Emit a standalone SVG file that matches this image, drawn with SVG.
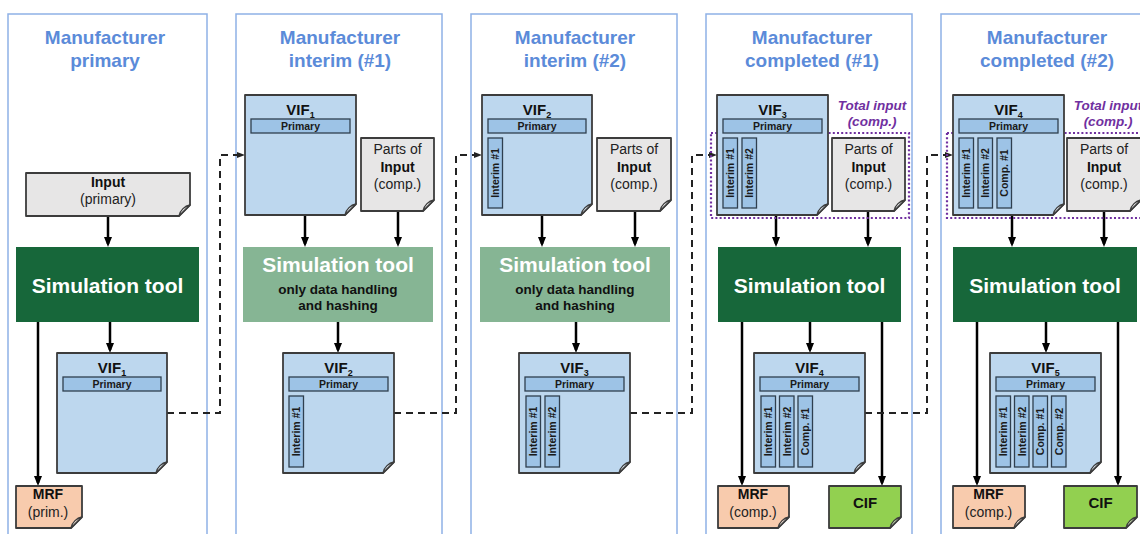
<svg xmlns="http://www.w3.org/2000/svg" width="1140" height="534" viewBox="0 0 1140 534">
<defs>
<style>
.panel{fill:none;stroke:#8fb1e6;stroke-width:1.5}
.title{font:bold 19px "Liberation Sans",Arial,sans-serif;fill:#5b8bd9;text-anchor:middle}
.doc{stroke:#3c3c3c;stroke-width:1.8;stroke-linejoin:round}
.vif{fill:#bdd7ee}
.inp{fill:#e7e6e6}
.mrf{fill:#f8cbad}
.cif{fill:#92d050}
.curl{fill:#ffffff;fill-opacity:.5;stroke:#3c3c3c;stroke-width:1.3;stroke-linejoin:round}
.bar{fill:#9dc3e6;stroke:#2f3f4f;stroke-width:1.3}
.simd{fill:#17673a}
.siml{fill:#86b594}
.simt{font:bold 21px "Liberation Sans",Arial,sans-serif;fill:#ffffff;text-anchor:middle}
.sub{font:bold 13.5px "Liberation Sans",Arial,sans-serif;fill:#111;text-anchor:middle}
.t14{font:14px "Liberation Sans",Arial,sans-serif;fill:#222;text-anchor:middle}
.b14{font:bold 14px "Liberation Sans",Arial,sans-serif;fill:#111;text-anchor:middle}
.vl{font:bold 15px "Liberation Sans",Arial,sans-serif;fill:#111;text-anchor:middle}
.vs{font-size:9px}
.pl{font:bold 10.5px "Liberation Sans",Arial,sans-serif;fill:#1a1a1a;text-anchor:middle}
.bt{font:bold 10.5px "Liberation Sans",Arial,sans-serif;fill:#1a1a1a;text-anchor:middle}
.arrow{stroke:#000;stroke-width:2.5;fill:none;marker-end:url(#ah)}
.dash{stroke:#222;stroke-width:2;stroke-dasharray:7 5;fill:none;marker-end:url(#ahs)}
.tot{fill:none;stroke:#7030a0;stroke-width:2.2;stroke-dasharray:2 2.2}
.totl{font:italic bold 13.5px "Liberation Sans",Arial,sans-serif;fill:#7030a0;text-anchor:middle}
</style>
<marker id="ah" markerUnits="userSpaceOnUse" viewBox="0 0 10 10" markerWidth="10" markerHeight="10" refX="7" refY="5" orient="auto"><path d="M0,1 L10,5 L0,9 Z" fill="#000"/></marker>
<marker id="ahs" markerUnits="userSpaceOnUse" viewBox="0 0 8 8" markerWidth="8" markerHeight="8" refX="5" refY="4" orient="auto"><path d="M0,1 L8,4 L0,7 Z" fill="#222"/></marker>
</defs>
<rect width="1140" height="534" fill="#ffffff"/>

<g id="panels">
<rect class="panel" x="8" y="14" width="199" height="540"/>
<rect class="panel" x="236" y="14" width="206" height="540"/>
<rect class="panel" x="471" y="14" width="206" height="540"/>
<rect class="panel" x="706" y="14" width="206" height="540"/>
<rect class="panel" x="941" y="14" width="206" height="540"/>
<text class="title" x="105" y="44">Manufacturer</text>
<text class="title" x="105" y="67">primary</text>
<text class="title" x="340" y="44">Manufacturer</text>
<text class="title" x="340" y="67">interim (#1)</text>
<text class="title" x="575" y="44">Manufacturer</text>
<text class="title" x="575" y="67">interim (#2)</text>
<text class="title" x="812" y="44">Manufacturer</text>
<text class="title" x="812" y="67">completed (#1)</text>
<text class="title" x="1047" y="44">Manufacturer</text>
<text class="title" x="1047" y="67">completed (#2)</text>
</g>

<g id="connectors">
<line class="arrow" x1="108" y1="216" x2="108" y2="244"/>
<line class="arrow" x1="110" y1="322" x2="110" y2="350"/>
<line class="arrow" x1="38" y1="322" x2="38" y2="483"/>
<path class="dash" d="M167,413 H220 V155 H242"/>
<line class="arrow" x1="305" y1="215" x2="305" y2="244"/>
<line class="arrow" x1="398" y1="211" x2="398" y2="244"/>
<line class="arrow" x1="338" y1="322" x2="338" y2="350"/>
<path class="dash" d="M394,413 H456 V155 H479"/>
<line class="arrow" x1="542" y1="215" x2="542" y2="244"/>
<line class="arrow" x1="635" y1="211" x2="635" y2="244"/>
<line class="arrow" x1="576" y1="322" x2="576" y2="350"/>
<path class="dash" d="M630,413 H692 V155 H714"/>
<line class="arrow" x1="776" y1="215" x2="776" y2="244"/>
<line class="arrow" x1="868" y1="211" x2="868" y2="244"/>
<line class="arrow" x1="810" y1="322" x2="810" y2="350"/>
<line class="arrow" x1="742" y1="322" x2="742" y2="483"/>
<line class="arrow" x1="882" y1="322" x2="882" y2="483"/>
<path class="dash" d="M865,413 H927 V155 H950"/>
<line class="arrow" x1="1012" y1="215" x2="1012" y2="244"/>
<line class="arrow" x1="1104" y1="211" x2="1104" y2="244"/>
<line class="arrow" x1="1046" y1="322" x2="1046" y2="350"/>
<line class="arrow" x1="977" y1="322" x2="977" y2="483"/>
<line class="arrow" x1="1118" y1="322" x2="1118" y2="483"/>
</g>

<!-- Panel 1 -->
<g id="p1-input">
<path class="doc inp" d="M26,173 H190 V205 L179,216 H26 Z"/>
<path class="curl" d="M179,216 C180,210 185,206 190,205 Z"/>
<text class="b14" x="108" y="187">Input</text>
<text class="t14" x="108" y="204">(primary)</text>
</g>
<g id="p1-sim">
<rect class="simd" x="16" y="247" width="183" height="75"/>
<text class="simt" x="107.5" y="292.5">Simulation tool</text>
</g>
<g id="p1-vif1">
<path class="doc vif" d="M57,353 H167 V462 L156,473 H57 Z"/>
<path class="curl" d="M156,473 C157,467 162,463 167,462 Z"/>
<text class="vl" x="112" y="372.5">VIF<tspan class="vs" dy="3">1</tspan></text>
<rect class="bar" x="63" y="377" width="98" height="14"/>
<text class="pl" x="112" y="388">Primary</text>
</g>
<g id="p1-mrf">
<path class="doc mrf" d="M16,486 H82 V517 L71,528 H16 Z"/>
<path class="curl" d="M71,528 C72,522 77,518 82,517 Z"/>
<text class="b14" x="48" y="499">MRF</text>
<text class="t14" x="48" y="517">(prim.)</text>
</g>

<!-- Panel 2 -->
<g id="p2-vif1">
<path class="doc vif" d="M245,95 H356 V204 L345,215 H245 Z"/>
<path class="curl" d="M345,215 C346,209 351,205 356,204 Z"/>
<text class="vl" x="300.5" y="114.5">VIF<tspan class="vs" dy="3">1</tspan></text>
<rect class="bar" x="251" y="119" width="99" height="14"/>
<text class="pl" x="300.5" y="130">Primary</text>
</g>
<g id="p2-parts">
<path class="doc inp" d="M361,138 H434 V200 L423,211 H361 Z"/>
<path class="curl" d="M423,211 C424,205 429,201 434,200 Z"/>
<text class="t14" x="397.5" y="154">Parts of</text>
<text class="b14" x="397.5" y="172">Input</text>
<text class="t14" x="397.5" y="189">(comp.)</text>
</g>
<g id="p2-sim">
<rect class="siml" x="243" y="247" width="190" height="75"/>
<text class="simt" x="338" y="272">Simulation tool</text>
<text class="sub" x="338" y="294">only data handling</text>
<text class="sub" x="338" y="309.5">and hashing</text>
</g>
<g id="p2-vif2">
<path class="doc vif" d="M283,353 H394 V462 L383,473 H283 Z"/>
<path class="curl" d="M383,473 C384,467 389,463 394,462 Z"/>
<text class="vl" x="338.5" y="372.5">VIF<tspan class="vs" dy="3">2</tspan></text>
<rect class="bar" x="289" y="377" width="99" height="14"/>
<text class="pl" x="338.5" y="388">Primary</text>
<rect class="bar" x="289" y="396" width="14.5" height="71"/>
<text class="bt" transform="translate(296.25,431.5) rotate(-90)" y="4">Interim #1</text>
</g>

<!-- Panel 3 -->
<g id="p3-vif2">
<path class="doc vif" d="M482,95 H592 V204 L581,215 H482 Z"/>
<path class="curl" d="M581,215 C582,209 587,205 592,204 Z"/>
<text class="vl" x="537" y="114.5">VIF<tspan class="vs" dy="3">2</tspan></text>
<rect class="bar" x="488" y="119" width="98" height="14"/>
<text class="pl" x="537" y="130">Primary</text>
<rect class="bar" x="488" y="138" width="14.5" height="70"/>
<text class="bt" transform="translate(495.25,173) rotate(-90)" y="4">Interim #1</text>
</g>
<g id="p3-parts">
<path class="doc inp" d="M597,138 H671 V200 L660,211 H597 Z"/>
<path class="curl" d="M660,211 C661,205 666,201 671,200 Z"/>
<text class="t14" x="634" y="154">Parts of</text>
<text class="b14" x="634" y="172">Input</text>
<text class="t14" x="634" y="189">(comp.)</text>
</g>
<g id="p3-sim">
<rect class="siml" x="480" y="247" width="190" height="75"/>
<text class="simt" x="575" y="272">Simulation tool</text>
<text class="sub" x="575" y="294">only data handling</text>
<text class="sub" x="575" y="309.5">and hashing</text>
</g>
<g id="p3-vif3">
<path class="doc vif" d="M519,353 H630 V462 L619,473 H519 Z"/>
<path class="curl" d="M619,473 C620,467 625,463 630,462 Z"/>
<text class="vl" x="574.5" y="372.5">VIF<tspan class="vs" dy="3">3</tspan></text>
<rect class="bar" x="525" y="377" width="99" height="14"/>
<text class="pl" x="574.5" y="388">Primary</text>
<rect class="bar" x="526" y="396" width="14.5" height="71"/>
<text class="bt" transform="translate(533.25,431.5) rotate(-90)" y="4">Interim #1</text>
<rect class="bar" x="545" y="396" width="14.5" height="71"/>
<text class="bt" transform="translate(552.25,431.5) rotate(-90)" y="4">Interim #2</text>
</g>

<!-- Panel 4 -->
<g id="p4-total">
<rect class="tot" x="711" y="133" width="198" height="85"/>
<text class="totl" x="872" y="110">Total input</text>
<text class="totl" x="872" y="126">(comp.)</text>
</g>
<g id="p4-vif3">
<path class="doc vif" d="M717,95 H828 V204 L817,215 H717 Z"/>
<path class="curl" d="M817,215 C818,209 823,205 828,204 Z"/>
<text class="vl" x="772.5" y="114.5">VIF<tspan class="vs" dy="3">3</tspan></text>
<rect class="bar" x="723" y="119" width="99" height="14"/>
<text class="pl" x="772.5" y="130">Primary</text>
<rect class="bar" x="723" y="138" width="14.5" height="70"/>
<text class="bt" transform="translate(730.25,173) rotate(-90)" y="4">Interim #1</text>
<rect class="bar" x="742" y="138" width="14.5" height="70"/>
<text class="bt" transform="translate(749.25,173) rotate(-90)" y="4">Interim #2</text>
</g>
<g id="p4-parts">
<path class="doc inp" d="M832,138 H905 V200 L894,211 H832 Z"/>
<path class="curl" d="M894,211 C895,205 900,201 905,200 Z"/>
<text class="t14" x="868.5" y="154">Parts of</text>
<text class="b14" x="868.5" y="172">Input</text>
<text class="t14" x="868.5" y="189">(comp.)</text>
</g>
<g id="p4-sim">
<rect class="simd" x="718" y="247" width="183" height="75"/>
<text class="simt" x="809.5" y="292.5">Simulation tool</text>
</g>
<g id="p4-vif4">
<path class="doc vif" d="M754,353 H865 V462 L854,473 H754 Z"/>
<path class="curl" d="M854,473 C855,467 860,463 865,462 Z"/>
<text class="vl" x="809.5" y="372.5">VIF<tspan class="vs" dy="3">4</tspan></text>
<rect class="bar" x="760" y="377" width="99" height="14"/>
<text class="pl" x="809.5" y="388">Primary</text>
<rect class="bar" x="761" y="396" width="14.5" height="71"/>
<text class="bt" transform="translate(768.25,431.5) rotate(-90)" y="4">Interim #1</text>
<rect class="bar" x="779.5" y="396" width="14.5" height="71"/>
<text class="bt" transform="translate(786.75,431.5) rotate(-90)" y="4">Interim #2</text>
<rect class="bar" x="798" y="396" width="14.5" height="71"/>
<text class="bt" transform="translate(805.25,431.5) rotate(-90)" y="4">Comp. #1</text>
</g>
<g id="p4-mrf">
<path class="doc mrf" d="M718,486 H789 V517 L778,528 H718 Z"/>
<path class="curl" d="M778,528 C779,522 784,518 789,517 Z"/>
<text class="b14" x="753" y="499">MRF</text>
<text class="t14" x="753" y="517">(comp.)</text>
</g>
<g id="p4-cif">
<path class="doc cif" d="M829,486 H901 V517 L890,528 H829 Z"/>
<path class="curl" d="M890,528 C891,522 896,518 901,517 Z"/>
<text class="b14" x="865" y="507.5" style="font-size:15px">CIF</text>
</g>

<!-- Panel 5 -->
<g id="p5-total">
<rect class="tot" x="947" y="133" width="210" height="85"/>
<text class="totl" x="1108" y="110">Total input</text>
<text class="totl" x="1108" y="126">(comp.)</text>
</g>
<g id="p5-vif4">
<path class="doc vif" d="M953,95 H1064 V204 L1053,215 H953 Z"/>
<path class="curl" d="M1053,215 C1054,209 1059,205 1064,204 Z"/>
<text class="vl" x="1008.5" y="114.5">VIF<tspan class="vs" dy="3">4</tspan></text>
<rect class="bar" x="959" y="119" width="99" height="14"/>
<text class="pl" x="1008.5" y="130">Primary</text>
<rect class="bar" x="959" y="138" width="14.5" height="70"/>
<text class="bt" transform="translate(966.25,173) rotate(-90)" y="4">Interim #1</text>
<rect class="bar" x="978" y="138" width="14.5" height="70"/>
<text class="bt" transform="translate(985.25,173) rotate(-90)" y="4">Interim #2</text>
<rect class="bar" x="997" y="138" width="14.5" height="70"/>
<text class="bt" transform="translate(1004.25,173) rotate(-90)" y="4">Comp. #1</text>
</g>
<g id="p5-parts">
<path class="doc inp" d="M1067,138 H1141 V200 L1130,211 H1067 Z"/>
<path class="curl" d="M1130,211 C1131,205 1136,201 1141,200 Z"/>
<text class="t14" x="1104" y="154">Parts of</text>
<text class="b14" x="1104" y="172">Input</text>
<text class="t14" x="1104" y="189">(comp.)</text>
</g>
<g id="p5-sim">
<rect class="simd" x="953" y="247" width="184" height="75"/>
<text class="simt" x="1045" y="292.5">Simulation tool</text>
</g>
<g id="p5-vif5">
<path class="doc vif" d="M990,353 H1101 V462 L1090,473 H990 Z"/>
<path class="curl" d="M1090,473 C1091,467 1096,463 1101,462 Z"/>
<text class="vl" x="1045.5" y="372.5">VIF<tspan class="vs" dy="3">5</tspan></text>
<rect class="bar" x="996" y="377" width="99" height="14"/>
<text class="pl" x="1045.5" y="388">Primary</text>
<rect class="bar" x="996" y="396" width="14.5" height="71"/>
<text class="bt" transform="translate(1003.25,431.5) rotate(-90)" y="4">Interim #1</text>
<rect class="bar" x="1014.5" y="396" width="14.5" height="71"/>
<text class="bt" transform="translate(1021.75,431.5) rotate(-90)" y="4">Interim #2</text>
<rect class="bar" x="1033" y="396" width="14.5" height="71"/>
<text class="bt" transform="translate(1040.25,431.5) rotate(-90)" y="4">Comp. #1</text>
<rect class="bar" x="1051.5" y="396" width="14.5" height="71"/>
<text class="bt" transform="translate(1058.75,431.5) rotate(-90)" y="4">Comp. #2</text>
</g>
<g id="p5-mrf">
<path class="doc mrf" d="M953,486 H1025 V517 L1014,528 H953 Z"/>
<path class="curl" d="M1014,528 C1015,522 1020,518 1025,517 Z"/>
<text class="b14" x="988.5" y="499">MRF</text>
<text class="t14" x="988.5" y="517">(comp.)</text>
</g>
<g id="p5-cif">
<path class="doc cif" d="M1064,486 H1137 V517 L1126,528 H1064 Z"/>
<path class="curl" d="M1126,528 C1127,522 1132,518 1137,517 Z"/>
<text class="b14" x="1100.5" y="507.5" style="font-size:15px">CIF</text>
</g>
</svg>
